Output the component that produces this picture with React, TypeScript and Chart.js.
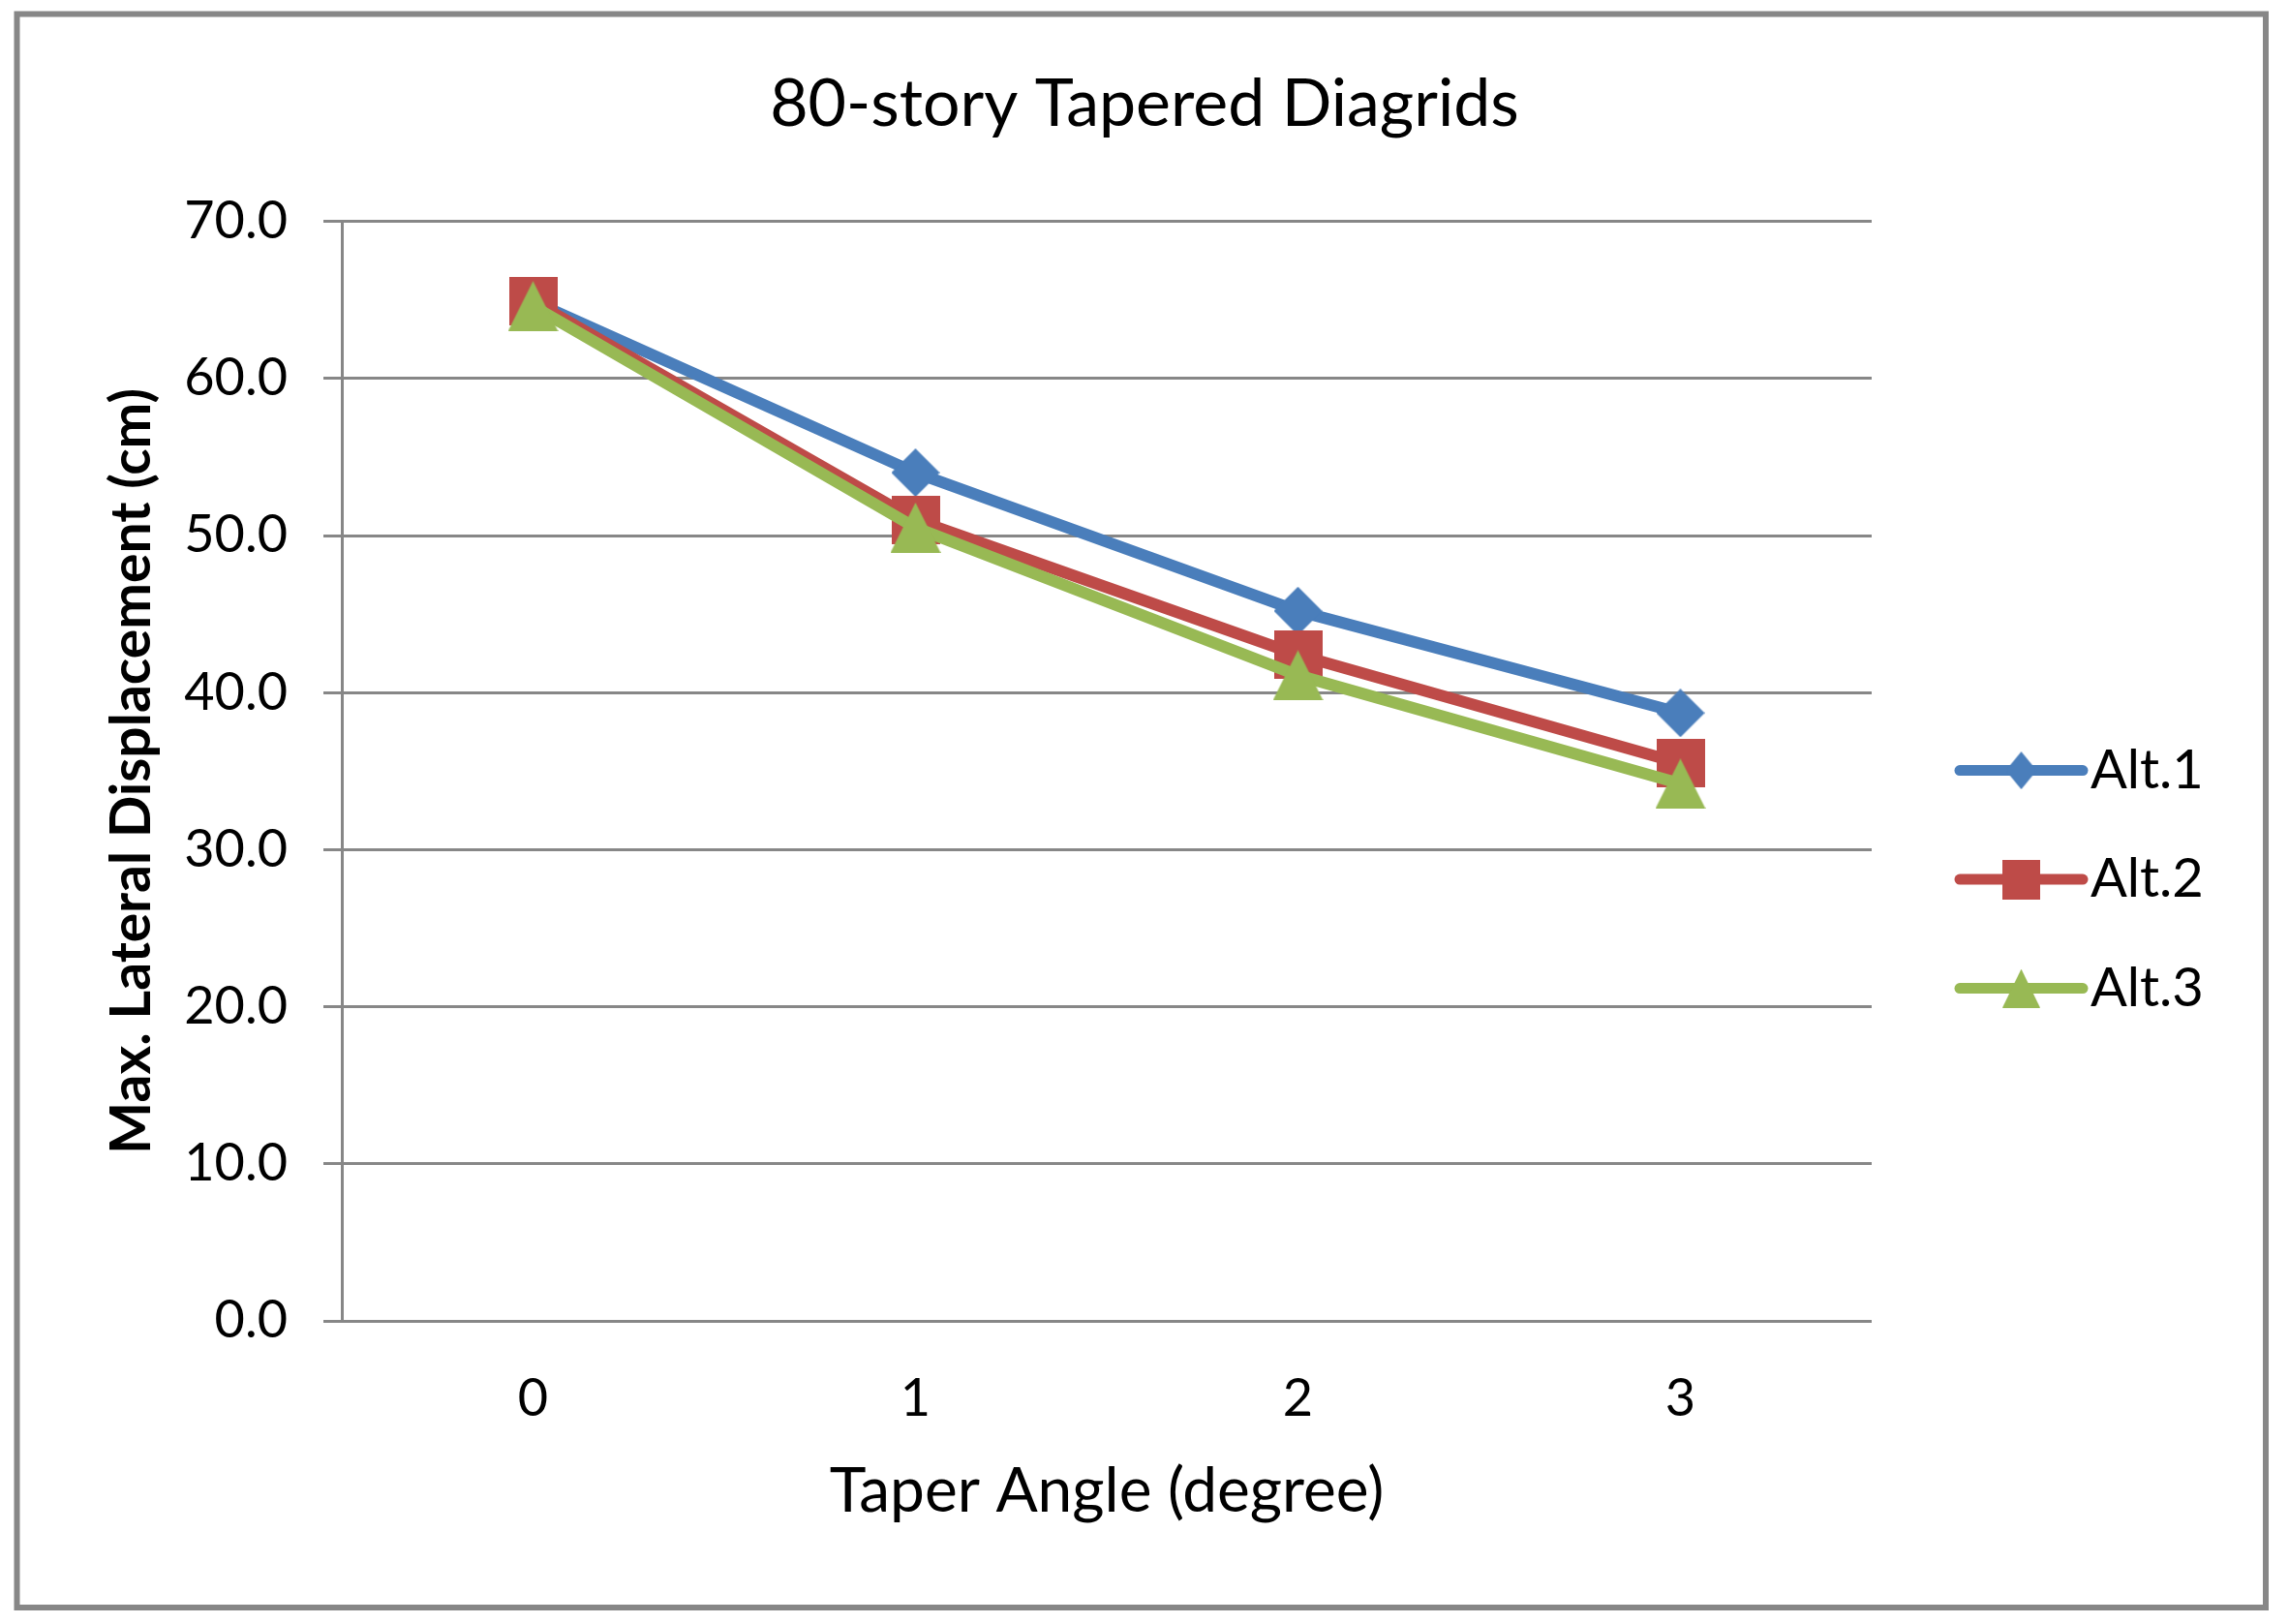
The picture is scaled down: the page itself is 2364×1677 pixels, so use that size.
import { useEffect, useRef } from "react";
import { Chart, registerables, Plugin } from "chart.js";

Chart.register(...registerables);

// data
const taperAngles = ["0", "1", "2", "3"];
const seriesNames = ["Alt.1", "Alt.2", "Alt.3"];
const alt1Values = [64.9, 54.0, 45.2, 38.7];
const alt2Values = [64.9, 51.0, 42.4, 35.5];
const alt3Values = [64.6, 50.5, 41.1, 34.2];
const yTickMin = 0;
const yTickMax = 70;
const yTickStep = 10;

const FONT = "Lato, 'Open Sans', sans-serif";
const GRID = "#878787";
const colors = ["#4a7ebb", "#be4b48", "#98b954"];

type Shape = "diamond" | "square" | "triangle";
const shapes: Shape[] = ["diamond", "square", "triangle"];

// Excel-like marker drawn on a small canvas, used as pointStyle
function makeMarker(shape: Shape, color: string, w: number, h: number) {
  const c = document.createElement("canvas");
  c.width = w;
  c.height = h;
  const ctx = c.getContext("2d")!;
  ctx.fillStyle = color;
  ctx.beginPath();
  if (shape === "diamond") {
    ctx.moveTo(w / 2, 0);
    ctx.lineTo(w, h / 2);
    ctx.lineTo(w / 2, h);
    ctx.lineTo(0, h / 2);
  } else if (shape === "square") {
    ctx.rect(0, 0, w, h);
  } else {
    ctx.moveTo(w / 2, 0);
    ctx.lineTo(w, h);
    ctx.lineTo(0, h);
  }
  ctx.closePath();
  ctx.fill();
  return c;
}

const plotMarkerSize = { diamond: [50, 50], square: [50, 50], triangle: [52, 52] };
const legendMarkerSize = { diamond: [32, 39], square: [39, 41], triangle: [39, 40] };

const framePlugIn: Plugin = {
  id: "frame",
  beforeDraw(chart) {
    const { ctx, width, height } = chart;
    ctx.save();
    ctx.fillStyle = "#ffffff";
    ctx.fillRect(0, 0, width, height);
    ctx.strokeStyle = GRID;
    ctx.lineWidth = 6;
    ctx.strokeRect(17.5, 14.5, width - 17.5 - 24, height - 14.5 - 17);
    ctx.restore();
  },
};

const sideLegend: Plugin = {
  id: "sideLegend",
  afterDraw(chart) {
    const { ctx, chartArea } = chart;
    ctx.save();
    chart.data.datasets.forEach((ds: any, i) => {
      const y = chartArea.top + 567 + i * 112.5;
      const x0 = chartArea.right + 91;
      const x1 = chartArea.right + 218;
      ctx.strokeStyle = ds.borderColor;
      ctx.lineWidth = 11;
      ctx.lineCap = "round";
      ctx.beginPath();
      ctx.moveTo(x0, y);
      ctx.lineTo(x1, y);
      ctx.stroke();
      const [w, h] = legendMarkerSize[shapes[i]];
      const img = makeMarker(shapes[i], colors[i], w, h);
      ctx.drawImage(img, (x0 + x1) / 2 - w / 2, y - h / 2);
      ctx.fillStyle = "#000";
      ctx.font = `56px ${FONT}`;
      ctx.textAlign = "left";
      ctx.textBaseline = "middle";
      ctx.fillText(ds.label, chartArea.right + 226, y);
    });
    ctx.restore();
  },
};

export default function App() {
  const canvasRef = useRef<HTMLCanvasElement>(null);
  const chartRef = useRef<Chart | null>(null);

  useEffect(() => {
    document.body.style.margin = "0";
    if (!canvasRef.current) return;
    if (chartRef.current) chartRef.current.destroy();

    const markers = shapes.map((s, i) => makeMarker(s, colors[i], plotMarkerSize[s][0], plotMarkerSize[s][1]));
    const values = [alt1Values, alt2Values, alt3Values];

    chartRef.current = new Chart(canvasRef.current, {
      type: "line",
      data: {
        labels: taperAngles,
        datasets: seriesNames.map((name, i) => ({
          label: name,
          data: values[i],
          borderColor: colors[i],
          backgroundColor: colors[i],
          borderWidth: 12,
          borderJoinStyle: "round" as const,
          borderCapStyle: "round" as const,
          tension: 0,
          pointStyle: markers[i],
          pointRadius: 25,
          order: seriesNames.length - i,
        })),
      },
      options: {
        responsive: true,
        maintainAspectRatio: false,
        animation: false,
        layout: { padding: { left: 20, right: 20, top: 20, bottom: 20 } },
        plugins: {
          legend: { display: false },
          tooltip: { enabled: false },
          title: {
            display: true,
            text: "80-story Tapered Diagrids",
            color: "#000",
            font: { family: FONT, size: 68, weight: "normal" },
            padding: { top: 47, bottom: 80 },
          },
        },
        scales: {
          x: {
            type: "category",
            offset: true,
            grid: { display: false, drawTicks: false },
            border: { display: false },
            ticks: { color: "#000", font: { family: FONT, size: 54 }, padding: 48 },
            title: {
              display: true,
              text: "Taper Angle (degree)",
              color: "#000",
              font: { family: FONT, size: 64 },
              padding: { top: 0, bottom: 78 },
            },
            afterFit: (s) => {
              s.height = 293;
            },
          },
          y: {
            position: "left",
            min: yTickMin,
            max: yTickMax,
            grid: { color: GRID, lineWidth: 3, tickLength: 19, drawTicks: true },
            border: { display: true, color: GRID, width: 3 },
            ticks: {
              stepSize: yTickStep,
              color: "#000",
              font: { family: FONT, size: 54 },
              padding: 37,
              callback: (v) => Number(v).toFixed(1),
            },
            title: {
              display: true,
              text: "Max. Lateral Displacement (cm)",
              color: "#000",
              font: { family: FONT, size: 57, weight: "bold" },
              padding: { top: 82, bottom: 0 },
            },
            afterFit: (s) => {
              s.width = 333;
            },
          },
          legendSpace: {
            type: "linear",
            position: "right",
            display: true,
            grid: { display: false },
            border: { display: false },
            ticks: { display: false },
            afterFit: (s) => {
              s.width = 411;
            },
          },
        },
      },
      plugins: [framePlugIn, sideLegend],
    });

    return () => {
      if (chartRef.current) {
        chartRef.current.destroy();
        chartRef.current = null;
      }
    };
  }, []);

  return (
    <div style={{ position: "relative", width: "2364px", height: "1677px" }}>
      <canvas ref={canvasRef} />
    </div>
  );
}
